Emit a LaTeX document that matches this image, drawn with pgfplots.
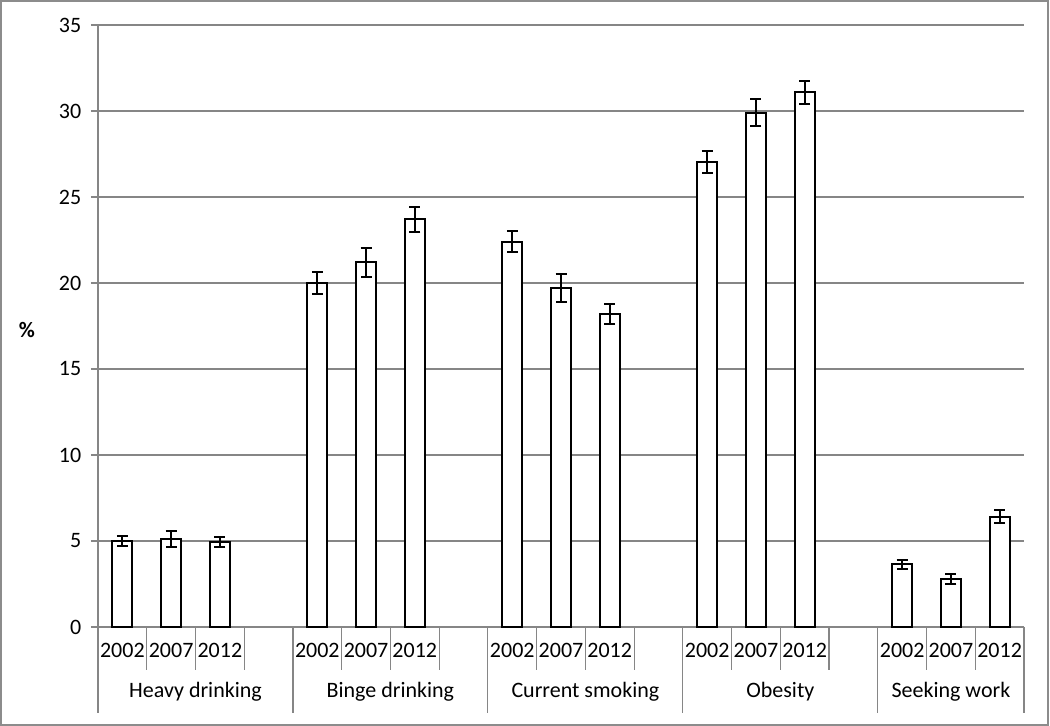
\documentclass[border=0pt]{standalone}
\usepackage{pgfplots}
\pgfplotsset{compat=1.18}
\usepackage{pgfplotstable}
\usepackage{fontspec}
\setmainfont{Carlito}
\definecolor{gridgray}{RGB}{134,134,134}
\definecolor{framegray}{RGB}{140,140,140}
\pgfplotstableread{
x y e
0 5.02 0.29
1 5.13 0.47
2 4.94 0.31
4 20.0 0.64
5 21.2 0.83
6 23.7 0.74
8 22.4 0.60
9 19.7 0.80
10 18.2 0.59
12 27.05 0.65
13 29.9 0.77
14 31.08 0.65
16 3.66 0.26
17 2.79 0.29
18 6.4 0.38
}\datatable
\tikzset{sep/.style={gridgray, line width=0.6pt}}
\begin{document}
\fontsize{11}{13}\selectfont
\begin{tikzpicture}[font=\fontsize{11}{13}\selectfont]
\path[use as bounding box] (0pt,0pt) rectangle (525pt,363pt);
\draw[framegray, line width=1pt] (0.5pt,0.5pt) rectangle (524pt,362.5pt);
\node[font=\fontsize{11}{13}\selectfont\bfseries] at (13.5pt,198pt) {\%};
\begin{axis}[
  at={(49pt,49.5pt)}, anchor=south west,
  scale only axis, width=463pt, height=301pt,
  xmin=-0.5, xmax=18.5, ymin=0, ymax=35,
  ytick={0,5,10,15,20,25,30,35},
  xtick=\empty,
  axis x line*=bottom, axis y line*=left,
  axis line style={-, gridgray, line width=0.75pt},
  every outer x axis line/.append style={-},
  every outer y axis line/.append style={-},
  ymajorgrids, major grid style={gridgray, line width=0.75pt},
  tick align=outside, major tick length=3.5pt,
  major y tick style={gridgray, line width=0.75pt},
  /pgf/number format/assume math mode=true,
  yticklabel style={font=\fontsize{11}{13}\selectfont, xshift=-1pt},
  clip=false,
  ybar, bar width=10pt,
]
\addplot[ybar, fill=white, draw=black, line width=1pt,
  error bars/.cd, y dir=both, y explicit,
  error bar style={line width=1pt, black},
  error mark options={rotate=90, mark size=2.75pt, line width=1pt, black}]
  table[x=x, y=y, y error=e] {\datatable};
% separators
\draw[sep] (axis cs:-0.5,0) -- ++(0pt,-43pt);
\draw[sep] (axis cs:0.5,0) -- ++(0pt,-21.5pt);
\draw[sep] (axis cs:1.5,0) -- ++(0pt,-21.5pt);
\draw[sep] (axis cs:2.5,0) -- ++(0pt,-21.5pt);
\draw[sep] (axis cs:3.5,0) -- ++(0pt,-43pt);
\draw[sep] (axis cs:4.5,0) -- ++(0pt,-21.5pt);
\draw[sep] (axis cs:5.5,0) -- ++(0pt,-21.5pt);
\draw[sep] (axis cs:6.5,0) -- ++(0pt,-21.5pt);
\draw[sep] (axis cs:7.5,0) -- ++(0pt,-43pt);
\draw[sep] (axis cs:8.5,0) -- ++(0pt,-21.5pt);
\draw[sep] (axis cs:9.5,0) -- ++(0pt,-21.5pt);
\draw[sep] (axis cs:10.5,0) -- ++(0pt,-21.5pt);
\draw[sep] (axis cs:11.5,0) -- ++(0pt,-43pt);
\draw[sep] (axis cs:12.5,0) -- ++(0pt,-21.5pt);
\draw[sep] (axis cs:13.5,0) -- ++(0pt,-21.5pt);
\draw[sep] (axis cs:14.5,0) -- ++(0pt,-21.5pt);
\draw[sep] (axis cs:15.5,0) -- ++(0pt,-43pt);
\draw[sep] (axis cs:16.5,0) -- ++(0pt,-21.5pt);
\draw[sep] (axis cs:17.5,0) -- ++(0pt,-21.5pt);
\draw[sep] (axis cs:18.5,0) -- ++(0pt,-43pt);
% year labels
\node at (axis cs:0,0) [yshift=-11.5pt] {2002};
\node at (axis cs:1,0) [yshift=-11.5pt] {2007};
\node at (axis cs:2,0) [yshift=-11.5pt] {2012};
\node at (axis cs:4,0) [yshift=-11.5pt] {2002};
\node at (axis cs:5,0) [yshift=-11.5pt] {2007};
\node at (axis cs:6,0) [yshift=-11.5pt] {2012};
\node at (axis cs:8,0) [yshift=-11.5pt] {2002};
\node at (axis cs:9,0) [yshift=-11.5pt] {2007};
\node at (axis cs:10,0) [yshift=-11.5pt] {2012};
\node at (axis cs:12,0) [yshift=-11.5pt] {2002};
\node at (axis cs:13,0) [yshift=-11.5pt] {2007};
\node at (axis cs:14,0) [yshift=-11.5pt] {2012};
\node at (axis cs:16,0) [yshift=-11.5pt] {2002};
\node at (axis cs:17,0) [yshift=-11.5pt] {2007};
\node at (axis cs:18,0) [yshift=-11.5pt] {2012};
% group labels
\node at (axis cs:1.5,0) [yshift=-32.5pt] {Heavy drinking};
\node at (axis cs:5.5,0) [yshift=-32.5pt] {Binge drinking};
\node at (axis cs:9.5,0) [yshift=-32.5pt] {Current smoking};
\node at (axis cs:13.5,0) [yshift=-32.5pt] {Obesity};
\node at (axis cs:17,0) [yshift=-32.5pt] {Seeking work};
\end{axis}
\end{tikzpicture}
\end{document}
